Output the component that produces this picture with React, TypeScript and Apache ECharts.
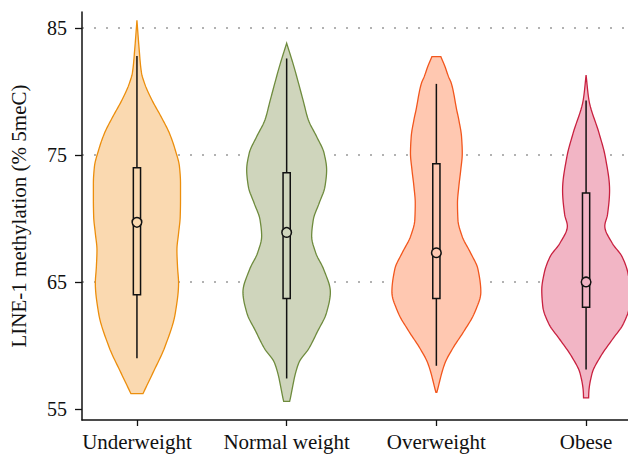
import React, { useEffect, useRef } from "react";
import * as echarts from "echarts";

const categories = ["Underweight", "Normal weight", "Overweight", "Obese"];
const yTicks = [55, 65, 75, 85];

// violin profiles: levels (LINE-1 %) and half-widths (x-axis units)
const underweightLevels = [56.2, 57.8, 59.9, 62.6, 64.9, 66.2, 67.52, 68.83, 70.14, 71.46, 72.77, 74.08, 75.39, 76.71, 78.02, 79.33, 80.5, 81.5, 83.3, 85.6];
const underweightWidths = [0.04, 0.105, 0.187, 0.257, 0.278, 0.271, 0.267, 0.278, 0.289, 0.291, 0.291, 0.284, 0.256, 0.217, 0.161, 0.1, 0.055, 0.03, 0.015, 0];
const normalLevels = [55.6, 58.6, 59.8, 61.1, 62.6, 64.2, 66.0, 67.3, 68.6, 69.9, 71.2, 72.52, 73.83, 75.14, 76.45, 77.76, 79.3, 82.1, 83.8];
const normalWidths = [0.02, 0.08, 0.15, 0.206, 0.267, 0.292, 0.247, 0.194, 0.167, 0.178, 0.217, 0.256, 0.267, 0.25, 0.2, 0.145, 0.11, 0.045, 0];
const overweightLevels = [56.3, 58.6, 59.8, 61.1, 62.6, 64.2, 66.0, 67.3, 68.6, 69.9, 71.2, 72.52, 73.83, 75.14, 76.45, 77.76, 78.54, 80.64, 81.17, 81.95, 82.74];
const overweightWidths = [0.003, 0.057, 0.111, 0.183, 0.256, 0.297, 0.278, 0.228, 0.172, 0.144, 0.141, 0.15, 0.163, 0.173, 0.168, 0.15, 0.136, 0.1, 0.081, 0.058, 0.03];
const obeseLevels = [55.87, 56.26, 57.8, 59.12, 60.43, 61.75, 63.06, 64.37, 65.68, 67.0, 68.05, 69.4, 70.3, 72.24, 74.87, 76.7, 79.33, 81.3];
const obeseWidths = [0.017, 0.018, 0.04, 0.096, 0.173, 0.251, 0.289, 0.296, 0.28, 0.24, 0.175, 0.125, 0.143, 0.157, 0.128, 0.087, 0.019, 0];

// box statistics: [min, q1, median, q3, max]
const boxStats = [
  [59.0, 64.0, 69.7, 74.0, 82.8],
  [57.4, 63.7, 68.9, 73.6, 82.6],
  [58.4, 63.7, 67.3, 74.3, 80.6],
  [58.1, 63.0, 65.0, 72.0, 79.3],
];

const fills = ["#FAD9B0", "#CFD5BC", "#FFC8B1", "#F2B5C5"];
const strokes = ["#EC8E0C", "#6E8B3D", "#F2561D", "#C8203F"];

const profiles = [
  [underweightLevels, underweightWidths],
  [normalLevels, normalWidths],
  [overweightLevels, overweightWidths],
  [obeseLevels, obeseWidths],
];

const FONT = "'Liberation Serif', 'Times New Roman', serif";

// monotone cubic (Fritsch-Carlson) resampling of a profile for a smooth outline
function resample(xs: number[], ys: number[], steps: number) {
  const n = xs.length;
  const d: number[] = [];
  for (let i = 0; i < n - 1; i++) d.push((ys[i + 1] - ys[i]) / (xs[i + 1] - xs[i]));
  const m: number[] = new Array(n);
  m[0] = d[0];
  m[n - 1] = d[n - 2];
  for (let i = 1; i < n - 1; i++) {
    if (d[i - 1] * d[i] <= 0) m[i] = 0;
    else {
      const h0 = xs[i] - xs[i - 1];
      const h1 = xs[i + 1] - xs[i];
      const w1 = 2 * h1 + h0;
      const w2 = h1 + 2 * h0;
      m[i] = (w1 + w2) / (w1 / d[i - 1] + w2 / d[i]);
    }
  }
  const out: number[][] = [];
  for (let i = 0; i < n - 1; i++) {
    const h = xs[i + 1] - xs[i];
    for (let s = 0; s < steps; s++) {
      const t = s / steps;
      const t2 = t * t;
      const t3 = t2 * t;
      const y =
        (2 * t3 - 3 * t2 + 1) * ys[i] +
        (t3 - 2 * t2 + t) * h * m[i] +
        (-2 * t3 + 3 * t2) * ys[i + 1] +
        (t3 - t2) * h * m[i + 1];
      out.push([xs[i] + t * h, Math.max(0, y)]);
    }
  }
  out.push([xs[n - 1], ys[n - 1]]);
  return out;
}

export default function App() {
  const ref = useRef<HTMLDivElement>(null);
  useEffect(() => {
    if (!ref.current) return;
    document.body.style.margin = "0";
    const chart = echarts.init(ref.current, null, { renderer: "svg" });
    const renderItem = (params: any, api: any) => {
      const i = api.value(1);
      const c = api.value(0);
      const [levels, widths] = profiles[i];
      const prof = resample(levels, widths, 10);
      const right: number[][] = [];
      const left: number[][] = [];
      for (let k = 0; k < prof.length; k++) right.push(api.coord([c + prof[k][1], prof[k][0]]));
      for (let k = prof.length - 1; k >= 0; k--) left.push(api.coord([c - prof[k][1], prof[k][0]]));
      const pts = right.concat(left);
      const s = boxStats[i];
      const pMin = api.coord([c, s[0]]);
      const pQ1 = api.coord([c, s[1]]);
      const pMed = api.coord([c, s[2]]);
      const pQ3 = api.coord([c, s[3]]);
      const pMax = api.coord([c, s[4]]);
      const bw = 3.6;
      return {
        type: "group",
        children: [
          {
            type: "polygon",
            shape: { points: pts },
            style: { fill: fills[i], stroke: strokes[i], lineWidth: 1.3 },
          },
          {
            type: "line",
            shape: { x1: pMax[0], y1: pMax[1], x2: pQ3[0], y2: pQ3[1] },
            style: { stroke: "#111", lineWidth: 1.5 },
          },
          {
            type: "line",
            shape: { x1: pQ1[0], y1: pQ1[1], x2: pMin[0], y2: pMin[1] },
            style: { stroke: "#111", lineWidth: 1.5 },
          },
          {
            type: "rect",
            shape: { x: pQ3[0] - bw, y: pQ3[1], width: bw * 2, height: pQ1[1] - pQ3[1] },
            style: { fill: "none", stroke: "#111", lineWidth: 1.5 },
          },
          {
            type: "circle",
            shape: { cx: pMed[0], cy: pMed[1], r: 4.8 },
            style: { fill: fills[i], stroke: "#111", lineWidth: 1.5 },
          },
        ],
      };
    };
    chart.setOption({
      animation: false,
      grid: { left: 81, right: 0, top: 12, bottom: 35 },
      xAxis: {
        type: "value",
        min: 0.633,
        max: 4.28,
        splitLine: { show: false },
        axisLine: { lineStyle: { color: "#111", width: 1.5 } },
        axisTick: { customValues: [1, 2, 3, 4], length: 6, lineStyle: { color: "#111", width: 1.3 } },
        axisLabel: {
          customValues: [1, 2, 3, 4],
          formatter: (v: number) => categories[Math.round(v) - 1] ?? "",
          color: "#111",
          fontFamily: FONT,
          fontSize: 21,
          margin: 11,
        },
      },
      yAxis: {
        type: "value",
        min: 54.13,
        max: 86.26,
        name: "LINE-1 methylation (% 5meC)",
        nameLocation: "middle",
        nameGap: 53,
        nameTextStyle: { color: "#111", fontFamily: FONT, fontSize: 21 },
        splitLine: { show: false },
        axisLine: { show: true, lineStyle: { color: "#111", width: 1.5 } },
        axisTick: { show: true, customValues: yTicks, length: 7, lineStyle: { color: "#111", width: 1.3 } },
        axisLabel: {
          customValues: yTicks,
          color: "#111",
          fontFamily: FONT,
          fontSize: 20,
          margin: 15,
        },
      },
      series: [
        {
          type: "custom",
          z: 2,
          renderItem,
          data: categories.map((_, i) => [i + 1, i]),
          encode: { x: 0, y: -1 },
          markLine: {
            z: 0,
            silent: true,
            symbol: ["none", "none"],
            label: { show: false },
            lineStyle: { type: [2, 10], color: "#999", width: 1.6 },
            data: [{ yAxis: 65 }, { yAxis: 75 }, { yAxis: 85 }],
          },
        },
      ],
    });
    return () => chart.dispose();
  }, []);
  return <div ref={ref} style={{ width: 628, height: 455 }} />;
}
